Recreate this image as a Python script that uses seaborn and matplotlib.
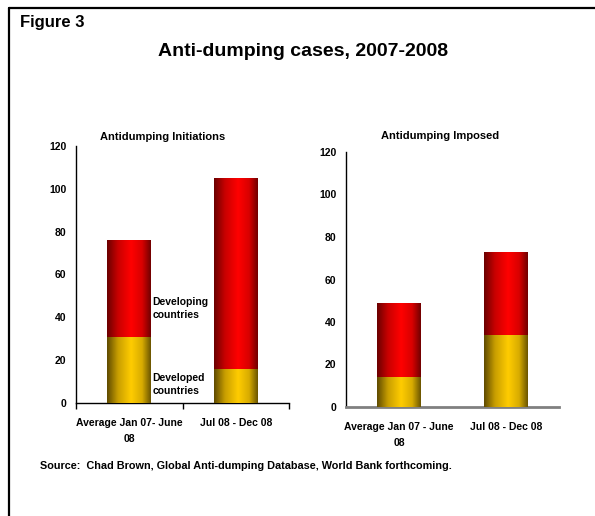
import numpy as np
import pandas as pd
import matplotlib
matplotlib.use("Agg")
import matplotlib.pyplot as plt
import seaborn as sns
from matplotlib.colors import LinearSegmentedColormap
from matplotlib.lines import Line2D

# ---- data ----
periods_init = ["Average Jan 07- June\n08", "Jul 08 - Dec 08"]
periods_imp = ["Average Jan 07 - June\n08", "Jul 08 - Dec 08"]
init_developed = [31, 16]
init_developing = [45, 89]
imp_developed = [14, 34]
imp_developing = [35, 39]
yticks = [0, 20, 40, 60, 80, 100, 120]

sns.set_theme(style="white")
FAM = ["Liberation Sans Narrow", "Liberation Sans", "DejaVu Sans"]
plt.rcParams["font.family"] = FAM
plt.rcParams["font.weight"] = "bold"
plt.rcParams["text.color"] = "black"
plt.rcParams["xtick.color"] = "black"
plt.rcParams["ytick.color"] = "black"

fig = plt.figure(figsize=(5.95, 5.16), dpi=100)
W, H = 595, 516

def ax_rect(x0, x1, ytop, ybot):
    return [x0 / W, 1 - ybot / H, (x1 - x0) / W, (ybot - ytop) / H]

ax1 = fig.add_axes(ax_rect(76, 289, 146, 403))
ax2 = fig.add_axes(ax_rect(346, 559, 152, 407))

red_cmap = LinearSegmentedColormap.from_list(
    "r", [(0, "#6a0000"), (0.25, "#c80000"), (0.55, "#ff0000"), (0.8, "#d80000"), (1, "#700000")])
yel_cmap = LinearSegmentedColormap.from_list(
    "y", [(0, "#5e4a00"), (0.25, "#c89e00"), (0.55, "#ffcc00"), (0.8, "#d8ac00"), (1, "#6a5400")])

def draw(ax, cats, developed, developing):
    total = [a + b for a, b in zip(developed, developing)]
    df = pd.DataFrame({"cat": cats, "total": total, "dev": developed})
    sns.barplot(data=df, x="cat", y="total", color="red", width=0.41, ax=ax, saturation=1)
    n_red = len(ax.patches)
    sns.barplot(data=df, x="cat", y="dev", color="gold", width=0.41, ax=ax, saturation=1)
    grad = np.linspace(0, 1, 256).reshape(1, -1)
    for i, p in enumerate(ax.patches):
        x0, y0 = p.get_x(), p.get_y()
        w, h = p.get_width(), p.get_height()
        cmap = red_cmap if i < n_red else yel_cmap
        im = ax.imshow(grad, cmap=cmap, aspect="auto", extent=[x0, x0 + w, y0, y0 + h],
                       zorder=2 + (i >= n_red), interpolation="bilinear")
        im.set_clip_path(p)
        p.set_facecolor("none")
        p.set_edgecolor("none")
    ax.set_xlim(-0.5, 1.5)
    ax.set_ylim(0, 120)
    ax.set_yticks(yticks)
    ax.set_yticklabels([str(t) for t in yticks], fontsize=7.5, fontweight="bold")
    ax.set_xticks([0, 1])
    ax.set_xticklabels(cats, fontsize=7.5, fontweight="bold", linespacing=1.75)
    ax.set_xlabel("")
    ax.set_ylabel("")
    for s in ["top", "right"]:
        ax.spines[s].set_visible(False)
    ax.spines["left"].set_color("black")
    ax.spines["left"].set_linewidth(1.0)
    ax.tick_params(axis="y", length=0, pad=7)
    ax.tick_params(axis="x", which="major", length=0, pad=11)

draw(ax1, periods_init, init_developed, init_developing)
draw(ax2, periods_imp, imp_developed, imp_developing)

ax1.spines["bottom"].set_color("black")
ax1.spines["bottom"].set_linewidth(1.0)
ax1.set_xticks([-0.5, 0.5, 1.5], minor=True)
ax1.tick_params(axis="x", which="minor", bottom=True, length=4, width=1, color="black")

ax2.spines["bottom"].set_color("#808080")
ax2.spines["bottom"].set_linewidth(2.0)

# annotations
ax1.text(0.22, 44, "Developing\ncountries", fontsize=7.5, fontweight="bold", ha="left", va="center", linespacing=1.35)
ax1.text(0.22, 8.5, "Developed\ncountries", fontsize=7.5, fontweight="bold", ha="left", va="center", linespacing=1.35)

# titles
fig.text(163 / W, 1 - 137 / H, "Antidumping Initiations", fontsize=8, fontweight="bold", ha="center", va="center")
fig.text(440 / W, 1 - 136 / H, "Antidumping Imposed", fontsize=8, fontweight="bold", ha="center", va="center")
fig.text(303 / W, 1 - 52 / H, "Anti-dumping cases, 2007-2008", fontsize=14, fontweight="bold", ha="center", va="center")
fig.text(20 / W, 1 - 22 / H, "Figure 3", fontsize=12, fontweight="bold", ha="left", va="center")
fig.text(40 / W, 1 - 466 / H, "Source:  Chad Brown, Global Anti-dumping Database, World Bank forthcoming.",
         fontsize=7.8, fontweight="bold", ha="left", va="center")

# frame
fig.add_artist(Line2D([9 / W, 9 / W], [0, 1 - 7.5 / H], transform=fig.transFigure, color="black", lw=1.6))
fig.add_artist(Line2D([9 / W, 1], [1 - 7.5 / H, 1 - 7.5 / H], transform=fig.transFigure, color="black", lw=1.6))

fig.savefig("out.png", dpi=100)
